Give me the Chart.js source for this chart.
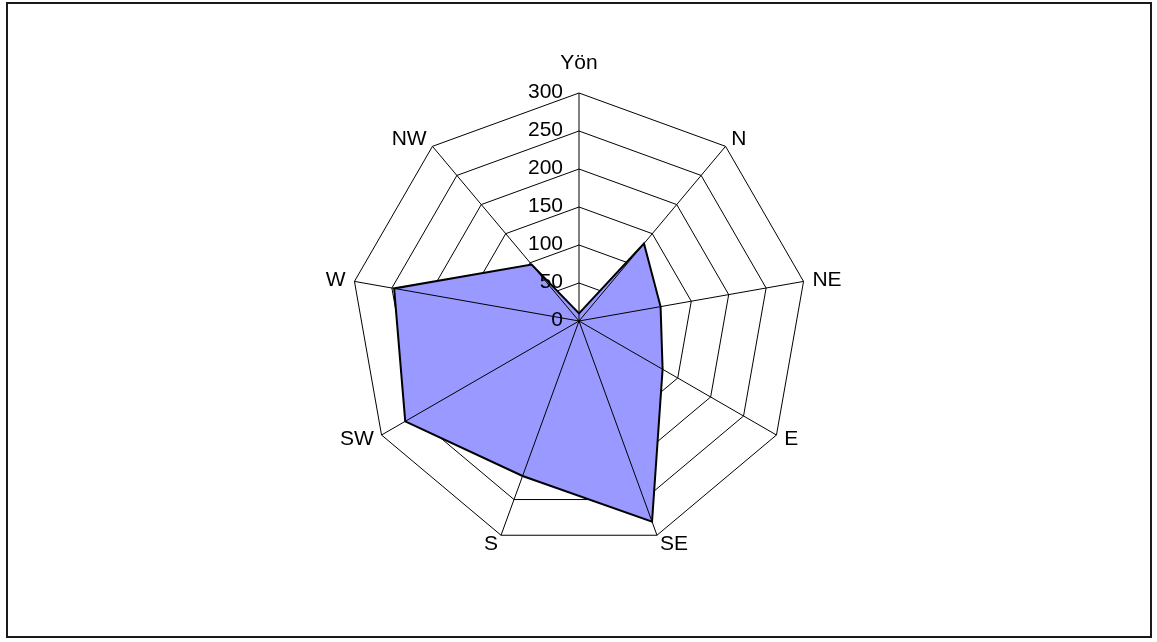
<!DOCTYPE html>
<html>
<head>
<meta charset="utf-8">
<title>Yön radar</title>
<script src="https://cdn.jsdelivr.net/npm/chart.js@4/dist/chart.umd.min.js"></script>
<style>
    html, body { margin: 0; padding: 0; background: #fff; }
    #wrap { position: relative; width: 1157px; height: 642px; }
    #frame {
        position: absolute; left: 6px; top: 2px; width: 1146px; height: 636px;
        border: 2px solid #1a1a1a; box-sizing: border-box; pointer-events: none;
    }
</style>
</head>
<body>
<div id="wrap">
    <canvas id="radar"></canvas>
    <div id="frame"></div>
</div>
<script>
// ========================================
// DATA
// ========================================
const directions = ['Yön', 'N', 'NE', 'E', 'SE', 'S', 'SW', 'W', 'NW'];
const counts = [10, 133, 109, 127, 281, 217, 264, 247, 97];
const tickValues = [0, 50, 100, 150, 200, 250, 300];

const FONT = '21px "Liberation Sans", Arial, sans-serif';

// ========================================
// OVERLAY: spokes over the fill, tick labels, direction labels
// ========================================
const excelRadarOverlay = {
    id: 'excelRadarOverlay',
    afterDatasetsDraw(chart) {
        const scale = chart.scales.r;
        const ctx = chart.ctx;
        const xc = scale.xCenter;
        const yc = scale.yCenter;
        const maxVal = tickValues[tickValues.length - 1];

        // spokes drawn on top of the filled area
        ctx.save();
        ctx.strokeStyle = '#000';
        ctx.lineWidth = 1;
        directions.forEach((d, i) => {
            const p = scale.getPointPositionForValue(i, maxVal);
            ctx.beginPath();
            ctx.moveTo(xc, yc);
            ctx.lineTo(p.x, p.y);
            ctx.stroke();
        });

        // value labels, left of the top spoke
        ctx.fillStyle = '#000';
        ctx.font = FONT;
        ctx.textAlign = 'right';
        ctx.textBaseline = 'middle';
        tickValues.forEach(v => {
            const dist = scale.getDistanceFromCenterForValue(v);
            ctx.fillText(String(v), xc - 16, yc - dist - 1);
        });

        // direction labels just outside the outer ring
        directions.forEach((d, i) => {
            if (i === 0) {
                const p = scale.getPointPosition(i, scale.drawingArea + 30);
                ctx.textAlign = 'center';
                ctx.fillText(d, p.x, p.y);
                return;
            }
            const p = scale.getPointPosition(i, scale.drawingArea + 9);
            if (p.x > xc + 1) ctx.textAlign = 'left';
            else if (p.x < xc - 1) ctx.textAlign = 'right';
            else ctx.textAlign = 'center';
            ctx.fillText(d, p.x, p.y);
        });
        ctx.restore();
    }
};

// ========================================
// CHART
// ========================================
new Chart(document.getElementById('radar'), {
    type: 'radar',
    data: {
        labels: directions,
        datasets: [{
            label: 'Yön',
            data: counts,
            backgroundColor: '#9999ff',
            borderColor: '#000',
            borderWidth: 2,
            borderJoinStyle: 'miter',
            pointRadius: 0,
            pointHoverRadius: 0,
            fill: true
        }]
    },
    options: {
        responsive: true,
        maintainAspectRatio: false,
        animation: false,
        layout: {
            padding: { top: 93, bottom: 92, left: 2, right: 0 }
        },
        plugins: {
            legend: { display: false },
            tooltip: { enabled: false }
        },
        scales: {
            r: {
                min: 0,
                max: 300,
                ticks: { stepSize: 50, display: false },
                grid: { color: '#000', lineWidth: 1, circular: false },
                angleLines: { display: false },
                pointLabels: { display: false }
            }
        }
    },
    plugins: [excelRadarOverlay]
});
</script>
</body>
</html>
